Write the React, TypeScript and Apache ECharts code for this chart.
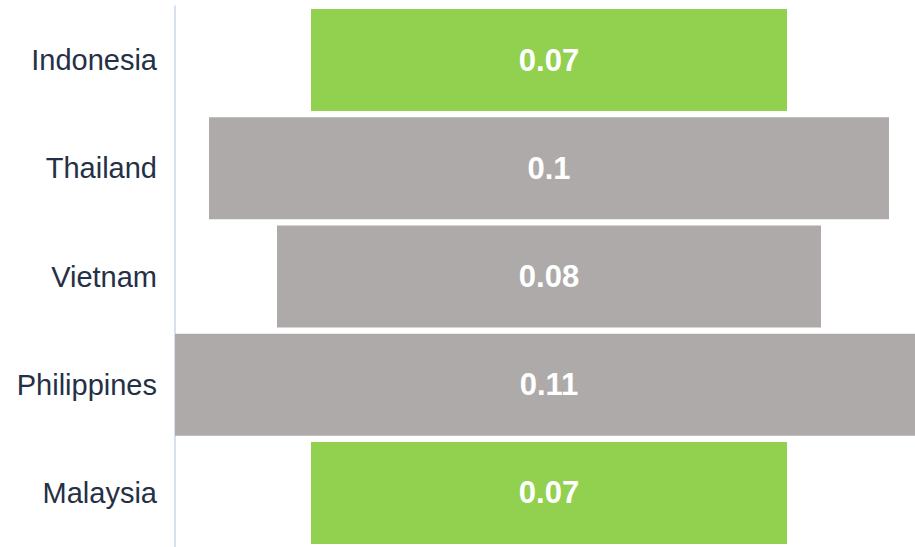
import React, { useEffect, useRef } from "react";
import * as echarts from "echarts";

const categories = ["Indonesia", "Thailand", "Vietnam", "Philippines", "Malaysia"];
const values = [0.07, 0.1, 0.08, 0.11, 0.07];
const barColors = ["#92D050", "#AEAAAA", "#AEAAAA", "#AEAAAA", "#92D050"];
const center = 0.055;
const axisMax = 0.11;

export default function App() {
  const ref = useRef<HTMLDivElement>(null);
  useEffect(() => {
    if (!ref.current) return;
    const chart = echarts.init(ref.current, undefined, { renderer: "svg" });
    const offsets = values.map((v) => +(center - v / 2).toFixed(4));
    chart.setOption({
      animation: false,
      grid: { left: 175, top: 6, width: 748, height: 544, containLabel: false },
      xAxis: {
        type: "value",
        min: 0,
        max: axisMax,
        show: false,
      },
      yAxis: {
        type: "category",
        data: categories,
        inverse: true,
        axisLine: { show: true, lineStyle: { color: "#CCD6EB", width: 1.5 } },
        axisTick: { show: false },
        axisLabel: {
          color: "#253046",
          fontSize: 29,
          fontFamily: "Liberation Sans, Arial, sans-serif",
          margin: 18,
        },
      },
      series: [
        {
          type: "bar",
          stack: "s",
          data: offsets,
          itemStyle: { color: "transparent" },
          silent: true,
          barCategoryGap: "5.75%",
        },
        {
          type: "bar",
          stack: "s",
          barCategoryGap: "5.75%",
          data: values.map((v, i) => ({ value: v, itemStyle: { color: barColors[i] } })),
          label: {
            show: true,
            position: "inside",
            color: "#FFFFFF",
            fontSize: 31,
            fontWeight: "bold",
            fontFamily: "Liberation Sans, Arial, sans-serif",
            formatter: (p: any) => String(p.value),
          },
        },
      ],
    });
    return () => chart.dispose();
  }, []);
  return (
    <div style={{ position: "fixed", left: 0, top: 0, width: 915, height: 547, overflow: "hidden", background: "#fff" }}>
      <div ref={ref} style={{ width: 935, height: 547 }} />
    </div>
  );
}
